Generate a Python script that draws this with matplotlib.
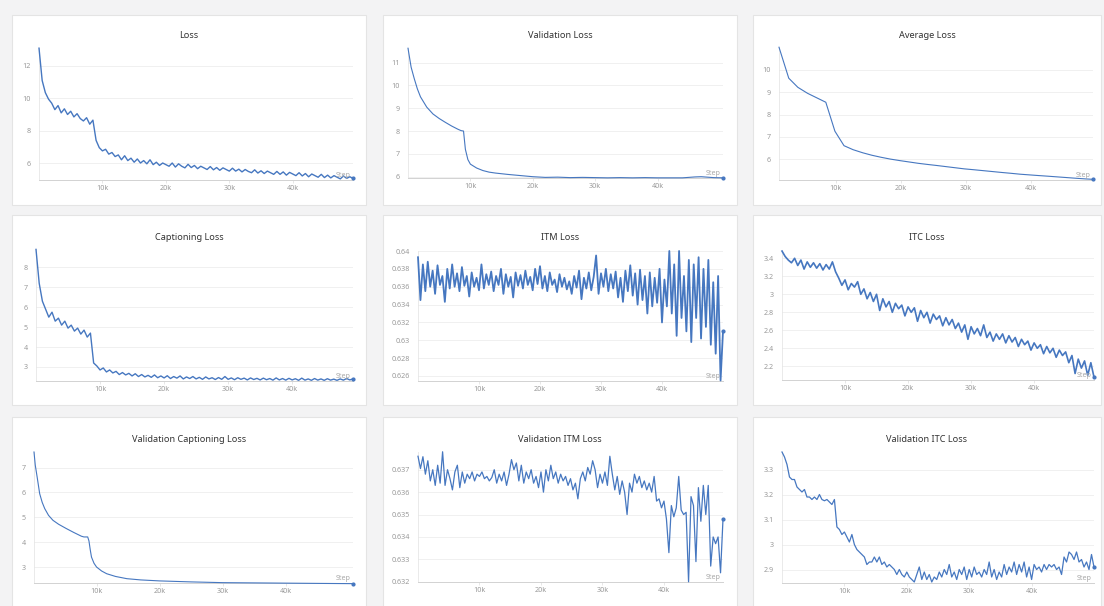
import numpy as np
import matplotlib
matplotlib.use('Agg')
from matplotlib import pyplot as plt
from matplotlib.patches import Rectangle
from matplotlib.ticker import FuncFormatter

plt.rcParams['font.family'] = ['Noto Sans', 'DejaVu Sans']

# ---- data ----
# training curves logged every 500 steps
loss = [13.10, 11.10, 10.35, 9.95, 9.70, 9.30, 9.55, 9.10, 9.35, 9.00,
        9.20, 8.85, 9.05, 8.75, 8.60, 8.80, 8.40, 8.65, 7.40, 6.95,
        6.75, 6.85, 6.55, 6.65, 6.40, 6.50, 6.20, 6.45, 6.15, 6.30,
        6.05, 6.25, 6.00, 6.15, 5.95, 6.20, 5.90, 6.05, 5.85, 6.00,
        5.90, 5.80, 6.00, 5.75, 5.95, 5.80, 5.70, 5.92, 5.72, 5.85,
        5.65, 5.80, 5.70, 5.60, 5.78, 5.58, 5.72, 5.55, 5.70, 5.60,
        5.50, 5.68, 5.50, 5.62, 5.45, 5.60, 5.48, 5.40, 5.58, 5.38,
        5.52, 5.35, 5.50, 5.40, 5.30, 5.48, 5.30, 5.45, 5.25, 5.42,
        5.32, 5.22, 5.40, 5.20, 5.35, 5.15, 5.32, 5.22, 5.12, 5.30,
        5.10, 5.25, 5.08, 5.22, 5.12, 5.02, 5.20, 5.05, 5.15, 5.05]

cap_loss = [8.90, 7.20, 6.30, 5.90, 5.50, 5.75, 5.30, 5.45, 5.10, 5.30,
            4.95, 5.10, 4.80, 4.95, 4.65, 4.85, 4.50, 4.70, 3.20, 3.05,
            2.85, 2.95, 2.75, 2.85, 2.70, 2.78, 2.62, 2.72, 2.60, 2.68,
            2.55, 2.66, 2.52, 2.62, 2.50, 2.58, 2.48, 2.60, 2.46, 2.55,
            2.45, 2.56, 2.42, 2.52, 2.44, 2.55, 2.40, 2.50, 2.42, 2.52,
            2.40, 2.48, 2.38, 2.50, 2.40, 2.46, 2.37, 2.47, 2.38, 2.52,
            2.38, 2.45, 2.36, 2.46, 2.38, 2.44, 2.35, 2.45, 2.37, 2.43,
            2.35, 2.44, 2.36, 2.42, 2.34, 2.45, 2.35, 2.42, 2.34, 2.43,
            2.35, 2.41, 2.33, 2.44, 2.34, 2.40, 2.33, 2.42, 2.34, 2.40,
            2.33, 2.41, 2.34, 2.39, 2.33, 2.40, 2.34, 2.42, 2.35, 2.40]

itc_loss = [3.48, 3.42, 3.38, 3.35, 3.40, 3.32, 3.38, 3.28, 3.36, 3.30,
            3.35, 3.29, 3.34, 3.27, 3.33, 3.28, 3.36, 3.25, 3.18, 3.10,
            3.16, 3.05, 3.12, 3.08, 3.14, 3.00, 3.06, 2.95, 3.02, 2.92,
            3.00, 2.82, 2.95, 2.86, 2.92, 2.80, 2.90, 2.84, 2.88, 2.76,
            2.86, 2.80, 2.85, 2.70, 2.82, 2.74, 2.80, 2.68, 2.78, 2.72,
            2.76, 2.65, 2.74, 2.66, 2.72, 2.62, 2.68, 2.58, 2.66, 2.50,
            2.64, 2.56, 2.62, 2.54, 2.66, 2.52, 2.58, 2.48, 2.56, 2.50,
            2.56, 2.46, 2.54, 2.47, 2.52, 2.42, 2.50, 2.44, 2.48, 2.38,
            2.46, 2.40, 2.44, 2.34, 2.42, 2.35, 2.40, 2.30, 2.38, 2.32,
            2.36, 2.24, 2.32, 2.12, 2.28, 2.18, 2.26, 2.10, 2.24, 2.08]

# ITM loss logged every 400 steps
itm_loss = [0.6393, 0.6345, 0.6385, 0.6355, 0.6388, 0.6360, 0.6378, 0.6352, 0.6384, 0.6362,
            0.6372, 0.6343, 0.6380, 0.6358, 0.6385, 0.6360, 0.6375, 0.6355, 0.6382, 0.6361,
            0.6372, 0.6349, 0.6376, 0.6360, 0.6370, 0.6356, 0.6385, 0.6358, 0.6374, 0.6362,
            0.6377, 0.6355, 0.6372, 0.6362, 0.6380, 0.6352, 0.6374, 0.6360, 0.6371, 0.6348,
            0.6376, 0.6361, 0.6373, 0.6358, 0.6378, 0.6362, 0.6371, 0.6356, 0.6380, 0.6363,
            0.6383, 0.6358, 0.6372, 0.6355, 0.6376, 0.6362, 0.6368, 0.6354, 0.6374, 0.6360,
            0.6370, 0.6357, 0.6366, 0.6352, 0.6372, 0.6359, 0.6378, 0.6346, 0.6370, 0.6358,
            0.6376, 0.6356, 0.6371, 0.6395, 0.6352, 0.6375, 0.6360, 0.6380, 0.6355, 0.6374,
            0.6358, 0.6377, 0.6348, 0.6370, 0.6343, 0.6378, 0.6355, 0.6384, 0.6350, 0.6375,
            0.6340, 0.6379, 0.6345, 0.6372, 0.6330, 0.6376, 0.6338, 0.6370, 0.6342, 0.6380,
            0.6320, 0.6368, 0.6338, 0.6400, 0.6330, 0.6385, 0.6305, 0.6400, 0.6325, 0.6372,
            0.6310, 0.6390, 0.6298, 0.6385, 0.6325, 0.6393, 0.6302, 0.6380, 0.6315, 0.6390,
            0.6295, 0.6365, 0.6285, 0.6372, 0.6255, 0.6310]

# validation curves logged every 400 steps
val_itm_loss = [0.63760, 0.63705, 0.63758, 0.63680, 0.63740, 0.63650, 0.63700, 0.63630, 0.63720, 0.63640,
                0.63780, 0.63630, 0.63700, 0.63660, 0.63610, 0.63690, 0.63720, 0.63620, 0.63690, 0.63640,
                0.63680, 0.63660, 0.63690, 0.63650, 0.63680, 0.63670, 0.63690, 0.63660, 0.63670, 0.63650,
                0.63665, 0.63700, 0.63640, 0.63680, 0.63650, 0.63690, 0.63630, 0.63680, 0.63745, 0.63700,
                0.63730, 0.63650, 0.63720, 0.63640, 0.63690, 0.63660, 0.63700, 0.63640, 0.63670, 0.63620,
                0.63690, 0.63600, 0.63700, 0.63650, 0.63720, 0.63660, 0.63690, 0.63640, 0.63680, 0.63650,
                0.63670, 0.63630, 0.63660, 0.63610, 0.63640, 0.63570, 0.63660, 0.63690, 0.63650, 0.63710,
                0.63680, 0.63740, 0.63700, 0.63620, 0.63680, 0.63640, 0.63690, 0.63630, 0.63760, 0.63680,
                0.63610, 0.63670, 0.63590, 0.63650, 0.63600, 0.63500, 0.63640, 0.63600, 0.63680, 0.63640,
                0.63670, 0.63620, 0.63650, 0.63610, 0.63640, 0.63600, 0.63670, 0.63560, 0.63570, 0.63530,
                0.63560, 0.63480, 0.63330, 0.63540, 0.63490, 0.63530, 0.63670, 0.63520, 0.63500, 0.63510,
                0.63200, 0.63580, 0.63540, 0.63290, 0.63620, 0.63470, 0.63630, 0.63500, 0.63630, 0.63270,
                0.63400, 0.63370, 0.63400, 0.63240, 0.63480]

val_itc_loss = [3.37, 3.35, 3.32, 3.27, 3.26, 3.26, 3.23, 3.22, 3.21, 3.22,
                3.19, 3.19, 3.18, 3.19, 3.18, 3.20, 3.18, 3.175, 3.18, 3.17,
                3.16, 3.18, 3.07, 3.06, 3.04, 3.05, 3.03, 3.01, 3.04, 3.00,
                2.98, 2.97, 2.96, 2.95, 2.92, 2.93, 2.93, 2.95, 2.93, 2.95,
                2.92, 2.93, 2.91, 2.92, 2.91, 2.90, 2.88, 2.90, 2.88, 2.87,
                2.89, 2.87, 2.86, 2.85, 2.88, 2.91, 2.86, 2.89, 2.86, 2.88,
                2.85, 2.87, 2.86, 2.89, 2.87, 2.90, 2.88, 2.92, 2.87, 2.89,
                2.86, 2.90, 2.88, 2.91, 2.86, 2.90, 2.87, 2.91, 2.88, 2.89,
                2.87, 2.90, 2.88, 2.93, 2.87, 2.90, 2.86, 2.89, 2.87, 2.92,
                2.88, 2.91, 2.89, 2.93, 2.88, 2.92, 2.89, 2.93, 2.87, 2.91,
                2.86, 2.92, 2.90, 2.91, 2.89, 2.92, 2.90, 2.92, 2.91, 2.92,
                2.90, 2.91, 2.88, 2.95, 2.93, 2.97, 2.96, 2.94, 2.97, 2.93,
                2.94, 2.91, 2.93, 2.90, 2.96, 2.91]

# smooth curves with their own steps
val_loss_steps = [0, 500, 1000, 1500, 2000, 3000, 4000, 5000, 6000, 7000, 8000, 8500, 8900,
                  9200, 9600, 10000, 11000, 12000, 13000, 14000, 16000, 18000, 20000, 22000,
                  24000, 26000, 28000, 30000, 32000, 34000, 36000, 38000, 40000, 42000, 44000,
                  46000, 47000, 48000, 49000, 50500]
val_loss = [11.63, 10.8, 10.3, 9.85, 9.5, 9.05, 8.75, 8.55, 8.38, 8.22, 8.08, 8.02, 8.0,
            7.2, 6.75, 6.55, 6.38, 6.27, 6.2, 6.16, 6.1, 6.05, 6.0, 5.97,
            5.98, 5.96, 5.97, 5.96, 5.95, 5.96, 5.95, 5.96, 5.95, 5.95, 5.95,
            5.99, 6.0, 5.98, 5.96, 5.95]

avg_loss_steps = [1300, 2800, 4200, 5700, 7100, 8500, 9900, 11300, 12700, 14200, 15600, 17000,
                  18400, 19900, 21300, 22700, 24100, 25600, 27000, 28400, 29800, 31300, 32700,
                  34100, 35500, 37000, 38400, 39800, 41200, 42700, 44100, 45500, 46900, 48400, 49600]
avg_loss = [11.02, 9.63, 9.22, 8.95, 8.75, 8.55, 7.25, 6.60, 6.42, 6.28, 6.17, 6.08,
            6.00, 5.93, 5.87, 5.81, 5.76, 5.71, 5.66, 5.61, 5.56, 5.52, 5.48,
            5.44, 5.40, 5.36, 5.32, 5.29, 5.26, 5.23, 5.20, 5.17, 5.14, 5.11, 5.09]

val_cap_steps = [100, 300, 600, 1000, 1400, 1800, 2400, 3100, 4000, 5200, 6400, 7600, 8000, 8600,
                 8800, 9000, 9200, 9600, 10000, 10800, 11600, 13000, 14800, 17000, 20000, 25000,
                 30000, 35000, 40000, 45000, 50600]
val_cap_loss = [7.63, 7.1, 6.62, 5.95, 5.6, 5.35, 5.08, 4.88, 4.72, 4.55, 4.39, 4.24, 4.21, 4.21,
                4.05, 3.7, 3.4, 3.15, 3.0, 2.84, 2.73, 2.62, 2.53, 2.48, 2.44, 2.4,
                2.37, 2.36, 2.35, 2.34, 2.33]

xticks = [10000, 20000, 30000, 40000]

# ---- layout (pixels of the 1104x606 screenshot) ----
W, H = 1104, 606
fig = plt.figure(figsize=(W / 100, H / 100), dpi=100)
fig.patch.set_facecolor('#f3f3f4')

cards_x = [(12, 366), (383, 737), (753, 1101)]
cards_y = [(15, 205), (215, 405), (417, 615)]
title_y = [36, 237, 439]

# title, steps, values, axes box (l, t, r, b in px), ylim, yticks, line width
panels = [
    ('Loss', np.arange(len(loss)) * 500, loss, (39, 48, 353, 180), (4.95, 13.11), [6, 8, 10, 12], 1.0),
    ('Validation Loss', val_loss_steps, val_loss, (408, 48, 723, 178), (5.943, 11.64),
     [6, 7, 8, 9, 10, 11], 0.8),
    ('Average Loss', avg_loss_steps, avg_loss, (779, 47, 1093, 180), (5.06, 11.03), [6, 7, 8, 9, 10], 0.8),
    ('Captioning Loss', np.arange(len(cap_loss)) * 500, cap_loss, (36, 249, 353, 381), (2.296, 8.92),
     [3, 4, 5, 6, 7, 8], 1.0),
    ('ITM Loss', np.arange(len(itm_loss)) * 400, itm_loss, (418, 251, 723, 381), (0.62544, 0.640),
     [0.626, 0.628, 0.63, 0.632, 0.634, 0.636, 0.638, 0.64], 1.3),
    ('ITC Loss', np.arange(len(itc_loss)) * 500, itc_loss, (782, 250, 1094, 380), (2.048, 3.492),
     [2.2, 2.4, 2.6, 2.8, 3.0, 3.2, 3.4], 1.2),
    ('Validation Captioning Loss', val_cap_steps, val_cap_loss, (34, 452, 353, 583), (2.356, 7.63),
     [3, 4, 5, 6, 7], 0.8),
    ('Validation ITM Loss', np.arange(len(val_itm_loss)) * 400, val_itm_loss, (418, 452, 723, 582),
     (0.63199, 0.63779), [0.632, 0.633, 0.634, 0.635, 0.636, 0.637], 0.9),
    ('Validation ITC Loss', np.arange(len(val_itc_loss)) * 400, val_itc_loss, (782, 452, 1094, 583),
     (2.846, 3.37), [2.9, 3.0, 3.1, 3.2, 3.3], 0.9),
]

line_color = '#4677c0'

for n, (title, steps, values, (l, t, r, b), ylim, yticks, lw) in enumerate(panels):
    row, col = n // 3, n % 3
    cx0, cx1 = cards_x[col]
    cy0, cy1 = cards_y[row]
    # white card behind each chart
    fig.add_artist(Rectangle((cx0 / W, 1 - cy1 / H), (cx1 - cx0) / W, (cy1 - cy0) / H,
                             transform=fig.transFigure, facecolor='white',
                             edgecolor='#e4e4e4', lw=0.8, zorder=-1))
    fig.text((cx0 + cx1) / 2 / W, 1 - title_y[row] / H, title, ha='center', va='center',
             fontsize=6.6, fontweight='bold', color='#333333')

    ax = fig.add_axes([l / W, 1 - b / H, (r - l) / W, (b - t) / H])
    ax.set_facecolor('none')
    ax.plot(steps, values, color=line_color, lw=lw, clip_on=False, zorder=3)
    ax.plot(steps[-1], values[-1], 'o', color=line_color, ms=2, clip_on=False, zorder=4)
    ax.set_xlim(steps[0], steps[-1])
    ax.set_ylim(*ylim)
    ax.set_xticks(xticks)
    ax.xaxis.set_major_formatter(FuncFormatter(lambda v, p: '%dk' % (v / 1000)))
    ax.set_yticks(yticks)
    ax.yaxis.set_major_formatter(FuncFormatter(lambda v, p: '%g' % round(v, 4)))
    ax.tick_params(axis='x', length=2, width=0.5, color='#dddddd', pad=1.5,
                   labelsize=5.2, labelcolor='#9a9a9a')
    ax.tick_params(axis='y', length=0, pad=6, labelsize=5.2, labelcolor='#9a9a9a')
    ax.grid(axis='y', color='#eeeeee', lw=0.6)
    ax.set_axisbelow(True)
    for s in ['top', 'right']:
        ax.spines[s].set_visible(False)
    ax.spines['left'].set_color('#e6e6e6')
    ax.spines['left'].set_linewidth(0.6)
    ax.spines['bottom'].set_color('#d2d2d2')
    ax.spines['bottom'].set_linewidth(0.7)
    ax.annotate('Step', xy=(1, 0), xycoords='axes fraction', xytext=(-2, 1),
                textcoords='offset points', ha='right', va='bottom',
                fontsize=5.2, color='#a8a8a8')

fig.savefig('out.png', dpi=100, facecolor=fig.get_facecolor())
